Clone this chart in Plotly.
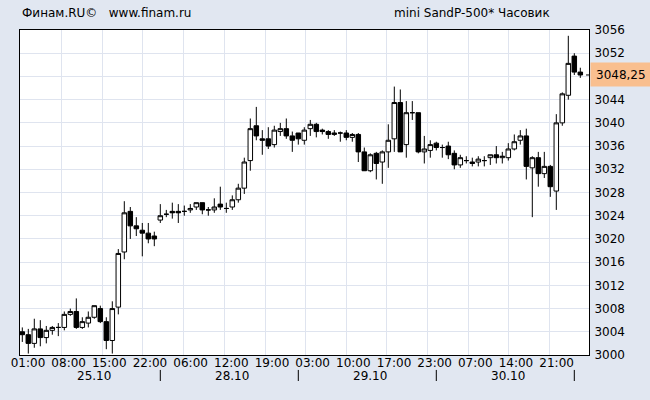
import plotly.graph_objects as go

# ---- data (hourly candles, mini S&P 500) ----
opens = [3004.0, 3003.5, 3002.0, 3004.5, 3003.0, 3004.25, 3004.75, 3004.75, 3007.0, 3007.5,
         3004.75, 3005.5, 3006.5, 3008.0, 3005.75, 3002.5, 3008.25, 3017.75, 3024.75, 3022.25,
         3021.5, 3021.0, 3020.5, 3023.25, 3024.25, 3024.75, 3024.75, 3024.75, 3025.0, 3025.5,
         3026.25, 3025.0, 3025.0, 3026.0, 3025.25, 3025.5, 3026.75, 3028.75, 3033.5, 3039.5,
         3037.25, 3037.25, 3036.25, 3038.5, 3039.0, 3037.75, 3038.25, 3037.0, 3039.0, 3039.75,
         3038.75, 3038.5, 3038.0, 3038.25, 3038.25, 3037.5, 3038.0, 3035.0, 3031.75, 3034.75,
         3033.25, 3035.0, 3037.25, 3043.5, 3036.25, 3041.75, 3041.75, 3035.0, 3035.25, 3036.5,
         3035.75, 3036.0, 3034.75, 3032.75, 3033.5, 3033.25, 3033.25, 3033.5, 3034.0, 3034.5,
         3034.0, 3034.0, 3035.5, 3037.0, 3037.75, 3032.25, 3034.0, 3031.25, 3032.5, 3028.25,
         3040.0, 3044.75, 3051.5, 3048.75]
highs = [3004.75, 3004.5, 3006.25, 3006.0, 3005.0, 3005.0, 3005.5, 3007.5, 3008.0, 3009.75,
         3006.5, 3007.5, 3008.5, 3008.5, 3006.5, 3009.25, 3018.25, 3026.5, 3025.5, 3023.75,
         3022.75, 3022.75, 3021.25, 3026.0, 3025.0, 3026.25, 3026.0, 3025.75, 3026.0, 3026.25,
         3026.25, 3025.5, 3027.0, 3029.0, 3026.25, 3027.5, 3029.5, 3034.0, 3040.75, 3042.75,
         3038.75, 3039.25, 3039.5, 3040.0, 3040.75, 3038.5, 3038.25, 3039.25, 3040.5, 3040.0,
         3039.0, 3038.75, 3038.75, 3038.5, 3038.75, 3038.25, 3038.25, 3035.75, 3034.75, 3035.0,
         3035.25, 3039.75, 3046.25, 3045.75, 3043.75, 3043.75, 3041.75, 3037.75, 3037.0, 3036.75,
         3036.25, 3036.75, 3035.25, 3034.5, 3034.25, 3034.0, 3034.25, 3034.25, 3034.5, 3036.0,
         3035.0, 3036.5, 3038.0, 3038.75, 3039.0, 3034.25, 3035.0, 3035.0, 3032.75, 3041.5,
         3045.25, 3055.0, 3052.0, 3049.5]
lows = [3002.25, 3000.25, 3001.25, 3001.5, 3002.0, 3003.5, 3003.25, 3004.25, 3006.75, 3004.5,
        3004.5, 3004.75, 3006.25, 3005.5, 3001.0, 3000.25, 3007.0, 3016.5, 3020.0, 3020.5,
        3017.0, 3019.25, 3018.75, 3022.75, 3023.75, 3023.5, 3022.75, 3024.0, 3024.5, 3025.0,
        3024.25, 3024.0, 3024.5, 3025.0, 3024.5, 3025.0, 3026.25, 3027.75, 3031.75, 3037.0,
        3034.5, 3035.5, 3035.75, 3037.75, 3037.25, 3035.0, 3036.25, 3036.25, 3037.75, 3037.5,
        3038.0, 3037.25, 3037.75, 3036.75, 3037.0, 3036.75, 3033.25, 3031.75, 3031.5, 3030.25,
        3029.5, 3032.25, 3035.0, 3035.0, 3034.0, 3040.5, 3034.75, 3033.0, 3034.0, 3035.25,
        3034.0, 3033.75, 3032.0, 3032.25, 3033.0, 3032.5, 3032.5, 3032.5, 3032.75, 3033.0,
        3033.0, 3033.5, 3035.25, 3036.25, 3030.25, 3023.75, 3029.0, 3030.5, 3027.25, 3025.0,
        3039.5, 3044.0, 3048.25, 3047.75]
closes = [3003.5, 3002.0, 3004.5, 3003.0, 3004.25, 3004.75, 3004.75, 3007.0, 3007.5, 3004.75,
          3005.75, 3006.5, 3008.5, 3005.75, 3002.5, 3008.0, 3017.5, 3024.5, 3022.25, 3021.75,
          3021.0, 3020.0, 3020.0, 3024.0, 3024.25, 3024.5, 3024.5, 3024.75, 3025.25, 3026.25,
          3025.0, 3025.0, 3025.5, 3025.5, 3025.25, 3026.75, 3028.75, 3033.25, 3039.0, 3037.75,
          3037.0, 3036.0, 3038.75, 3039.0, 3037.75, 3037.0, 3037.25, 3038.75, 3039.75, 3038.5,
          3038.5, 3038.0, 3038.25, 3038.25, 3037.5, 3038.0, 3035.0, 3031.75, 3034.5, 3033.0,
          3035.0, 3037.0, 3043.5, 3035.0, 3041.75, 3041.75, 3035.0, 3035.5, 3036.25, 3035.75,
          3035.75, 3034.5, 3032.75, 3034.0, 3033.5, 3033.0, 3033.75, 3033.5, 3034.5, 3034.0,
          3034.25, 3035.5, 3036.75, 3037.75, 3032.5, 3034.0, 3031.25, 3032.5, 3029.0, 3040.0,
          3045.0, 3050.25, 3048.75, 3048.25]
bar_index = list(range(len(opens)))

time_labels = ["01:00", "08:00", "15:00", "22:00", "06:00", "12:00", "19:00",
               "03:00", "10:00", "17:00", "23:00", "07:00", "14:00", "21:00"]
time_tick_pos = [-0.22, 6.56, 13.33, 20.11, 26.89, 33.67, 40.45,
                 47.22, 54.0, 60.78, 67.56, 74.33, 81.11, 87.89]
day_labels = ["25.10", "28.10", "29.10", "30.10"]
day_label_pos = [12, 35, 58, 81]
day_starts = [23, 46, 69, 92]
price_ticks = list(range(3000, 3057, 4))
last_price = 3048.25
last_price_text = "3048,25"
# the last-price tag covers the 3048 label
price_tick_text = ["" if v == 3048 else str(v) for v in price_ticks]

BG = "#E1E7F1"
GRID = "#DFE4EF"
FONT = dict(family="DejaVu Sans", size=12, color="#000000")

fig = go.Figure(go.Candlestick(
    x=bar_index, open=opens, high=highs, low=lows, close=closes,
    increasing=dict(line=dict(color="black", width=1), fillcolor="white"),
    decreasing=dict(line=dict(color="black", width=1), fillcolor="black"),
    whiskerwidth=0, hoverinfo="skip", showlegend=False,
))

annotations = [
    dict(text="Финам.RU©\u00a0\u00a0 www.finam.ru", xref="paper", yref="paper",
         x=0, y=1.052, xanchor="left", yanchor="middle", showarrow=False, font=FONT),
    dict(text="mini SandP-500* Часовик", xref="paper", yref="paper",
         x=0.935, y=1.052, xanchor="right", yanchor="middle", showarrow=False, font=FONT),
    dict(text=last_price_text, xref="paper", yref="y", x=1, xshift=1, y=last_price,
         xanchor="left", yanchor="middle", showarrow=False, font=FONT,
         bgcolor="#F9BF8F", borderpad=5, width=50, height=13, align="left"),
]
for lab, pos in zip(day_labels, day_label_pos):
    annotations.append(dict(text=lab, xref="x", yref="paper", x=pos, y=-0.0646,
                            xanchor="center", yanchor="middle", showarrow=False, font=FONT))

shapes = []
for s in day_starts:
    shapes.append(dict(type="line", xref="x", yref="paper", x0=s, x1=s,
                       y0=-0.046, y1=-0.08, line=dict(color="black", width=1)))
shapes.append(dict(type="line", xref="paper", yref="y", x0=0.9948, x1=1.0,
                   y0=last_price, y1=last_price, line=dict(color="black", width=1)))

fig.update_layout(
    width=650, height=400,
    margin=dict(l=20, r=61, t=30, b=45, pad=0),
    paper_bgcolor=BG, plot_bgcolor="white",
    font=FONT, boxgap=0.25, boxgroupgap=0,
    annotations=annotations, shapes=shapes,
    xaxis=dict(range=[-0.383, 94.45], tickmode="array", tickvals=time_tick_pos,
               ticktext=time_labels, showgrid=True, gridcolor=GRID, gridwidth=1,
               showline=True, mirror=True, linecolor="black", linewidth=1,
               ticks="", ticklabelshift=7, ticklabelstandoff=-3, zeroline=False,
               rangeslider=dict(visible=False), tickfont=FONT),
    yaxis=dict(range=[3000, 3056], side="right", tickmode="array", tickvals=price_ticks,
               ticktext=price_tick_text, showgrid=True, gridcolor=GRID,
               gridwidth=1, showline=True, mirror=True, linecolor="black", linewidth=1,
               ticks="", zeroline=False, tickfont=FONT, ticklabelstandoff=2),
)

fig.write_html(
    "out.html",
    config={"displayModeBar": False, "staticPlot": True},
    post_script="document.body.style.margin='0';document.body.style.background='" + BG + "';",
)
